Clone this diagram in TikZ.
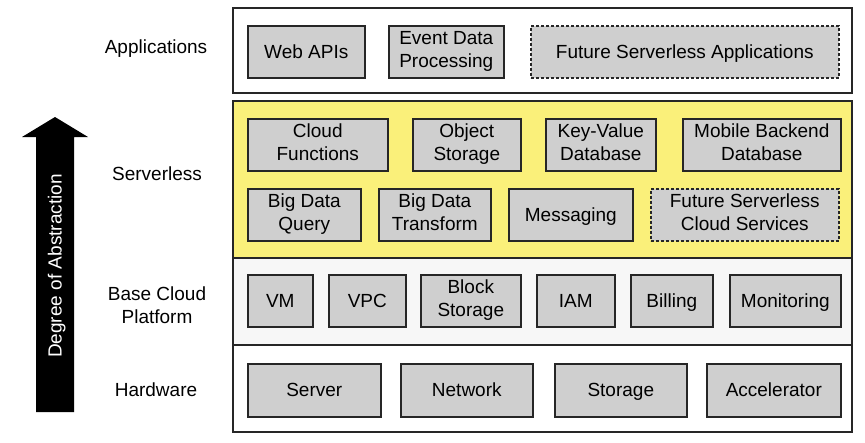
\documentclass[tikz,border=0pt]{standalone}
\usepackage{fontspec}
\setmainfont{Liberation Sans}
\definecolor{boxgray}{HTML}{CFCFCF}
\definecolor{layeryellow}{HTML}{FAF07A}
\definecolor{edge}{HTML}{262626}
\newcommand\mystrut{\rule[-4.5pt]{0pt}{22pt}}
\begin{document}
\begin{tikzpicture}[x=1pt,y=-1pt,
  every node/.style={font=\fontsize{19}{23}\selectfont, align=center, inner sep=0pt,
    execute at begin node=\mystrut, execute at end node=\mystrut},
  layer/.style={draw=edge, line width=1.5pt, fill=white},
  comp/.style={draw=edge, line width=1.6pt, fill=boxgray, anchor=north west},
  future/.style={draw=edge, line width=1.6pt, fill=boxgray, anchor=north west, dash pattern=on 3pt off 2pt},
  lbl/.style={text=black}]
\useasboundingbox (0,0) rectangle (865,442);
% layers
\draw[layer] (233,8) rectangle (852,93);
\draw[layer, fill=layeryellow] (233,101) rectangle (852,258);
\draw[layer, fill=white!97!black] (233,258) rectangle (852,345);
\draw[layer] (233,345) rectangle (852,432);
% left labels
\node[lbl] (lapp) at (156,47) {Applications};
\node[lbl] (lsrv) at (157,174) {Serverless};
\node[lbl] (lbase) at (157,307) {Base Cloud\\Platform};
\node[lbl] (lhw) at (156,390) {Hardware};
% arrow
\fill[black] (36,412) -- (36,137) -- (22,137) -- (55,117) -- (88,137) -- (74,137) -- (74,412) -- cycle;
\node[text=white, rotate=90] (abs) at (55,266) {Degree of Abstraction};
% applications
\node[comp, minimum width=117pt, minimum height=52pt] (webapi) at (247,25) {Web APIs};
\node[comp, minimum width=115pt, minimum height=52pt] (event) at (388,25) {Event Data\\Processing};
\node[future, minimum width=308pt, minimum height=52pt] (futapp) at (530,25) {Future Serverless Applications};
% serverless row 1
\node[comp, minimum width=140pt, minimum height=52pt] (cfun) at (247,118) {Cloud\\Functions};
\node[comp, minimum width=108pt, minimum height=52pt] (obj) at (412,118) {Object\\Storage};
\node[comp, minimum width=110pt, minimum height=52pt] (kv) at (545,118) {Key-Value\\Database};
\node[comp, minimum width=158pt, minimum height=52pt] (mob) at (682,118) {Mobile Backend\\Database};
% serverless row 2
\node[comp, minimum width=113pt, minimum height=52pt] (bdq) at (247,188) {Big Data\\Query};
\node[comp, minimum width=112pt, minimum height=52pt] (bdt) at (378,188) {Big Data\\Transform};
\node[comp, minimum width=124pt, minimum height=52pt] (msg) at (508,188) {Messaging};
\node[future, minimum width=188pt, minimum height=52pt] (futsvc) at (650,188) {Future Serverless\\Cloud Services};
% base cloud platform
\node[comp, minimum width=65pt, minimum height=52pt] (vm) at (247,274) {VM};
\node[comp, minimum width=77pt, minimum height=52pt] (vpc) at (328,274) {VPC};
\node[comp, minimum width=100pt, minimum height=52pt] (blk) at (420,274) {Block\\Storage};
\node[comp, minimum width=78pt, minimum height=52pt] (iam) at (536,274) {IAM};
\node[comp, minimum width=82pt, minimum height=52pt] (bill) at (630,274) {Billing};
\node[comp, minimum width=111pt, minimum height=52pt] (mon) at (729,274) {Monitoring};
% hardware
\node[comp, minimum width=133pt, minimum height=53pt] (srv) at (247,363) {Server};
\node[comp, minimum width=132pt, minimum height=53pt] (net) at (400,363) {Network};
\node[comp, minimum width=132pt, minimum height=53pt] (sto) at (554,363) {Storage};
\node[comp, minimum width=134pt, minimum height=53pt] (acc) at (706,363) {Accelerator};
\end{tikzpicture}
\end{document}
